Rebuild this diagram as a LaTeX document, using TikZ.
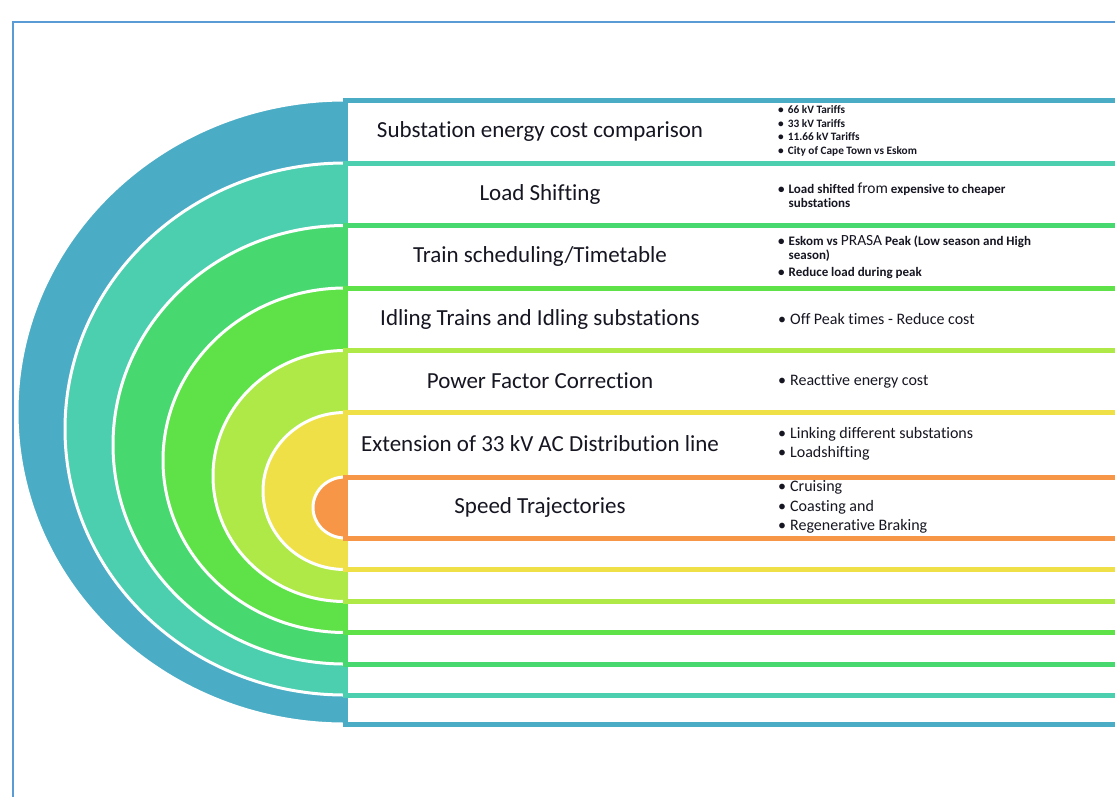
\documentclass[tikz,border=0pt]{standalone}
\usepackage{fontspec}
\setmainfont{Carlito}[Ligatures=NoCommon]
\usetikzlibrary{calc}

\definecolor{ringblue}{RGB}{75,172,198}
\definecolor{ringteal}{RGB}{75,207,175}
\definecolor{ringgreen}{RGB}{72,216,112}
\definecolor{ringlime}{RGB}{94,226,72}
\definecolor{ringpear}{RGB}{175,233,72}
\definecolor{ringyellow}{RGB}{240,224,72}
\definecolor{ringorange}{RGB}{247,150,70}
\definecolor{framecol}{RGB}{91,155,213}
\definecolor{txt}{RGB}{22,22,34}

\newcommand{\bul}{\textbullet\hspace{4pt}}
\newcommand{\bulgap}{\phantom{\textbullet}\hspace{4pt}}

\begin{document}
\begin{tikzpicture}[x=1pt,y=1pt,
  ring/.style={draw=white,line width=3pt},
  band/.style={line width=5pt,fill=white},
  title/.style={text=txt,inner sep=0pt,font=\fontsize{23}{27}\selectfont},
  notes/.style={anchor=west,align=left,inner sep=0pt,text=txt,font=\fontsize{16}{19.5}\selectfont},
  tinynotes/.style={notes,font=\bfseries\fontsize{11.3}{13.7}\selectfont},
  smallnotes/.style={notes,font=\bfseries\fontsize{13}{14.5}\selectfont}]
\useasboundingbox (0,0) rectangle (1115,-796);
\clip (0,0) rectangle (1115,-796);

% page frame
\draw[framecol,line width=1.5pt] (13,-800) -- (13,-22) -- (1120,-22);

% half discs and their bands, outermost first
\filldraw[fill=ringblue,ring] (345,-100) arc[start angle=90,end angle=270,x radius=328,y radius=312] -- cycle;
\draw[band,draw=ringblue] (345,-100) rectangle (1130,-724);

\filldraw[fill=ringteal,ring] (345,-163) arc[start angle=90,end angle=270,x radius=280,y radius=266] -- cycle;
\draw[band,draw=ringteal] (345,-163) rectangle (1130,-695);

\filldraw[fill=ringgreen,ring] (345,-225.5) arc[start angle=90,end angle=270,x radius=232,y radius=219.25] -- cycle;
\draw[band,draw=ringgreen] (345,-225.5) rectangle (1130,-664);

\filldraw[fill=ringlime,ring] (345,-288) arc[start angle=90,end angle=270,x radius=182,y radius=172.25] -- cycle;
\draw[band,draw=ringlime] (345,-288) rectangle (1130,-632.5);

\filldraw[fill=ringpear,ring] (345,-350.5) arc[start angle=90,end angle=270,x radius=132,y radius=125.5] -- cycle;
\draw[band,draw=ringpear] (345,-350.5) rectangle (1130,-601.5);

\filldraw[fill=ringyellow,ring] (345,-412.5) arc[start angle=90,end angle=270,x radius=82,y radius=78.5] -- cycle;
\draw[band,draw=ringyellow] (345,-412.5) rectangle (1130,-569.5);

\filldraw[fill=ringorange,ring] (345,-477) arc[start angle=90,end angle=270,x radius=32,y radius=30.5] -- cycle;
\draw[band,draw=ringorange] (345,-477) rectangle (1130,-538);

% titles
\node[title] (cost) at (540,-131) {Substation energy cost comparison};
\node[title] (shift) at (540,-194) {Load Shifting};
\node[title] (sched) at (540,-256) {Train scheduling/Timetable};
\node[title] (idle) at (540,-319) {Idling Trains and Idling substations};
\node[title] (pf) at (540,-381) {Power Factor Correction};
\node[title] (ext) at (540,-444) {Extension of 33 kV AC Distribution line};
\node[title] (speed) at (540,-507) {Speed Trajectories};

% notes
\node[tinynotes] (costnotes) at (778,-131) {\bul 66 kV Tariffs\\ \bul 33 kV Tariffs\\ \bul 11.66 kV Tariffs\\ \bul City of Cape Town vs Eskom};
\node[smallnotes] (shiftnotes) at (778,-195) {\bul Load shifted {\mdseries\fontsize{15.5}{15}\selectfont from} expensive to cheaper\\ \bulgap substations};
\node[smallnotes] (schednotes) at (778,-257) {\bul Eskom vs {\mdseries\fontsize{15.5}{15}\selectfont PRASA} Peak (Low season and High\\ \bulgap season)\\[2pt] \bul Reduce load during peak};
\node[notes] (idlenotes) at (778,-319) {\bul Off Peak times - Reduce cost};
\node[notes] (pfnotes) at (778,-381) {\bul Reacttive energy cost};
\node[notes] (extnotes) at (778,-444) {\bul Linking different substations\\ \bul Loadshifting};
\node[notes] (speednotes) at (778,-507) {\bul Cruising\\ \bul Coasting and\\ \bul Regenerative Braking};

\end{tikzpicture}
\end{document}
